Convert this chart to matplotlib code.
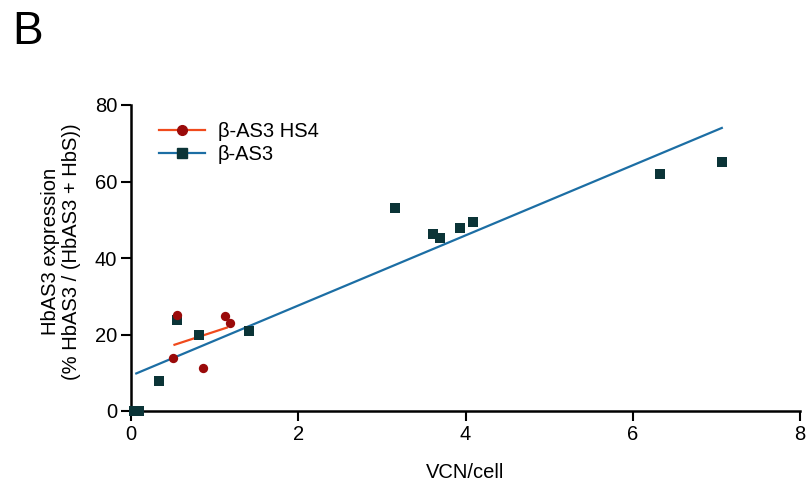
import numpy as np
import matplotlib
matplotlib.use("Agg")
import matplotlib.pyplot as plt
from matplotlib.lines import Line2D

plt.rcParams['font.family'] = ['Liberation Sans', 'DejaVu Sans']

# Data
hs4_x = [0.553, 0.508, 0.866, 1.125, 1.185]
hs4_y = [25.1, 13.9, 11.3, 24.9, 23.1]
as3_x = [0.04, 0.10, 0.338, 0.553, 0.815, 1.41, 3.154, 3.607, 3.70, 3.93, 4.085, 6.328, 7.065]
as3_y = [0.0, 0.0, 7.8, 23.8, 20.0, 21.0, 53.2, 46.4, 45.3, 47.9, 49.5, 62.0, 65.2]
labels = ["β-AS3 HS4", "β-AS3"]
xticks = [0, 2, 4, 6, 8]
yticks = [0, 20, 40, 60, 80]

red_line = "#f04a1c"
red_mark = "#9a0a0a"
blue_line = "#1c6ea4"
blue_mark = "#0b3437"

fig = plt.figure(figsize=(8.08, 4.91), dpi=100)
ax = fig.add_axes([131/808, 1-411/491, (800-131)/808, (411-105)/491])

# fits
for xs, ys, lc in [(as3_x, as3_y, blue_line), (hs4_x, hs4_y, red_line)]:
    xs = np.array(xs); ys = np.array(ys)
    k, b = np.polyfit(xs, ys, 1)
    xx = np.array([0.063 if lc == blue_line else 0.52, xs.max() if lc == blue_line else 1.145])
    ax.plot(xx, k*xx + b, color=lc, lw=1.6, zorder=2)

ax.scatter(as3_x, as3_y, marker='s', s=55, color=blue_mark, zorder=3, clip_on=False, linewidths=0)
ax.scatter(hs4_x, hs4_y, marker='o', s=45, color=red_mark, zorder=4, clip_on=False, linewidths=0)

ax.set_xlim(0, 8)
ax.set_ylim(0, 80)
ax.set_xticks(xticks)
ax.set_yticks(yticks)
for s in ['top', 'right']:
    ax.spines[s].set_visible(False)
for s in ['left', 'bottom']:
    ax.spines[s].set_linewidth(1.8)
    ax.spines[s].set_color('black')
ax.tick_params(direction='out', length=7, width=1.5, labelsize=14.5, colors='black', pad=3)

ax.set_xlabel("VCN/cell", fontsize=14.5, labelpad=13.5)
ax.set_ylabel("HbAS3 expression\n(% HbAS3 / (HbAS3 + HbS))", fontsize=14.5, labelpad=10, linespacing=1.15)
ax.yaxis.set_label_coords(-0.074, 0.52)

handles = [
    Line2D([], [], color=red_line, lw=1.6, marker='o', markersize=7, markerfacecolor=red_mark, markeredgecolor=red_mark),
    Line2D([], [], color=blue_line, lw=1.6, marker='s', markersize=7, markerfacecolor=blue_mark, markeredgecolor=blue_mark),
]
ax.legend(handles, labels, loc='upper left', bbox_to_anchor=(0.03, 0.972), frameon=False,
          fontsize=14.5, handlelength=2.3, handletextpad=0.6, labelspacing=0.22, borderaxespad=0)

fig.text(12/808, 1-44/491, "B", fontsize=33, ha='left', va='baseline')

fig.savefig("out.png", dpi=100)
